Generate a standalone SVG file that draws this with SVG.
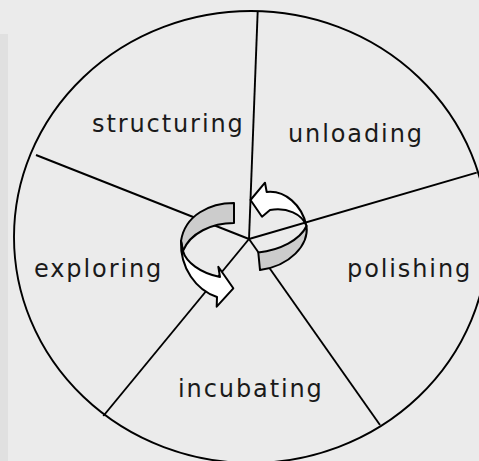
<svg xmlns="http://www.w3.org/2000/svg" width="479" height="461" viewBox="0 0 479 461">
  <style>
    .lbl { font-family: "DejaVu Sans", "Verdana", sans-serif; font-size: 24px; letter-spacing: 1.9px; fill: #1a1a1a; }
    .line { stroke: #000; stroke-width: 1.9; fill: none; }
    .arr { stroke: #000; stroke-width: 2; stroke-linejoin: round; }
    .back { fill: #cccccc; }
    .front { fill: #ffffff; }
  </style>
  <rect x="0" y="0" width="479" height="461" fill="#ebebeb"/>
  <rect x="0" y="34" width="8" height="427" fill="#e0e0e0"/>
  <g id="wheel">
    <ellipse cx="251" cy="237" rx="237" ry="226" class="line"/>
  </g>
  <g id="connectors">
    <line x1="249" y1="239" x2="257.7" y2="11" class="line"/>
    <line x1="249" y1="239" x2="476.7" y2="172.7" class="line"/>
    <line x1="249" y1="239" x2="380" y2="425" class="line"/>
    <line x1="249" y1="239" x2="103.3" y2="416" class="line"/>
    <line x1="249" y1="239" x2="36" y2="155" class="line"/>
  </g>
  <g id="structuring"><text class="lbl" x="92" y="131.5">structuring</text></g>
  <g id="unloading"><text class="lbl" x="288" y="141.5">unloading</text></g>
  <g id="polishing"><text class="lbl" x="347" y="276.5">polishing</text></g>
  <g id="incubating"><text class="lbl" x="178" y="396.5">incubating</text></g>
  <g id="exploring"><text class="lbl" x="34" y="276.5">exploring</text></g>
  <g id="cycle-left">
    <path class="arr back" d="M234,203 C210,203 185,215 181,241 L183,251 C190,233 212,223 234,223 Z"/>
    <path class="arr front" d="M181,241 C180,268 196,290 217,297 L216.7,306.7 L233.3,288.3 L218.3,266.7 L220,277 C200,273 186,262 183,251 Z"/>
  </g>
  <g id="cycle-right">
    <path class="arr front" d="M250.5,200 L265,182.7 L266.7,192 C285,190 302,205 306.5,226 C302,214 287,207 270,210 L262,216.7 Z"/>
    <path class="arr back" d="M306.5,226 C309,245 290,266 260,270 L258.3,252.5 C280,250 300,240 306.5,226 Z"/>
  </g>
</svg>
